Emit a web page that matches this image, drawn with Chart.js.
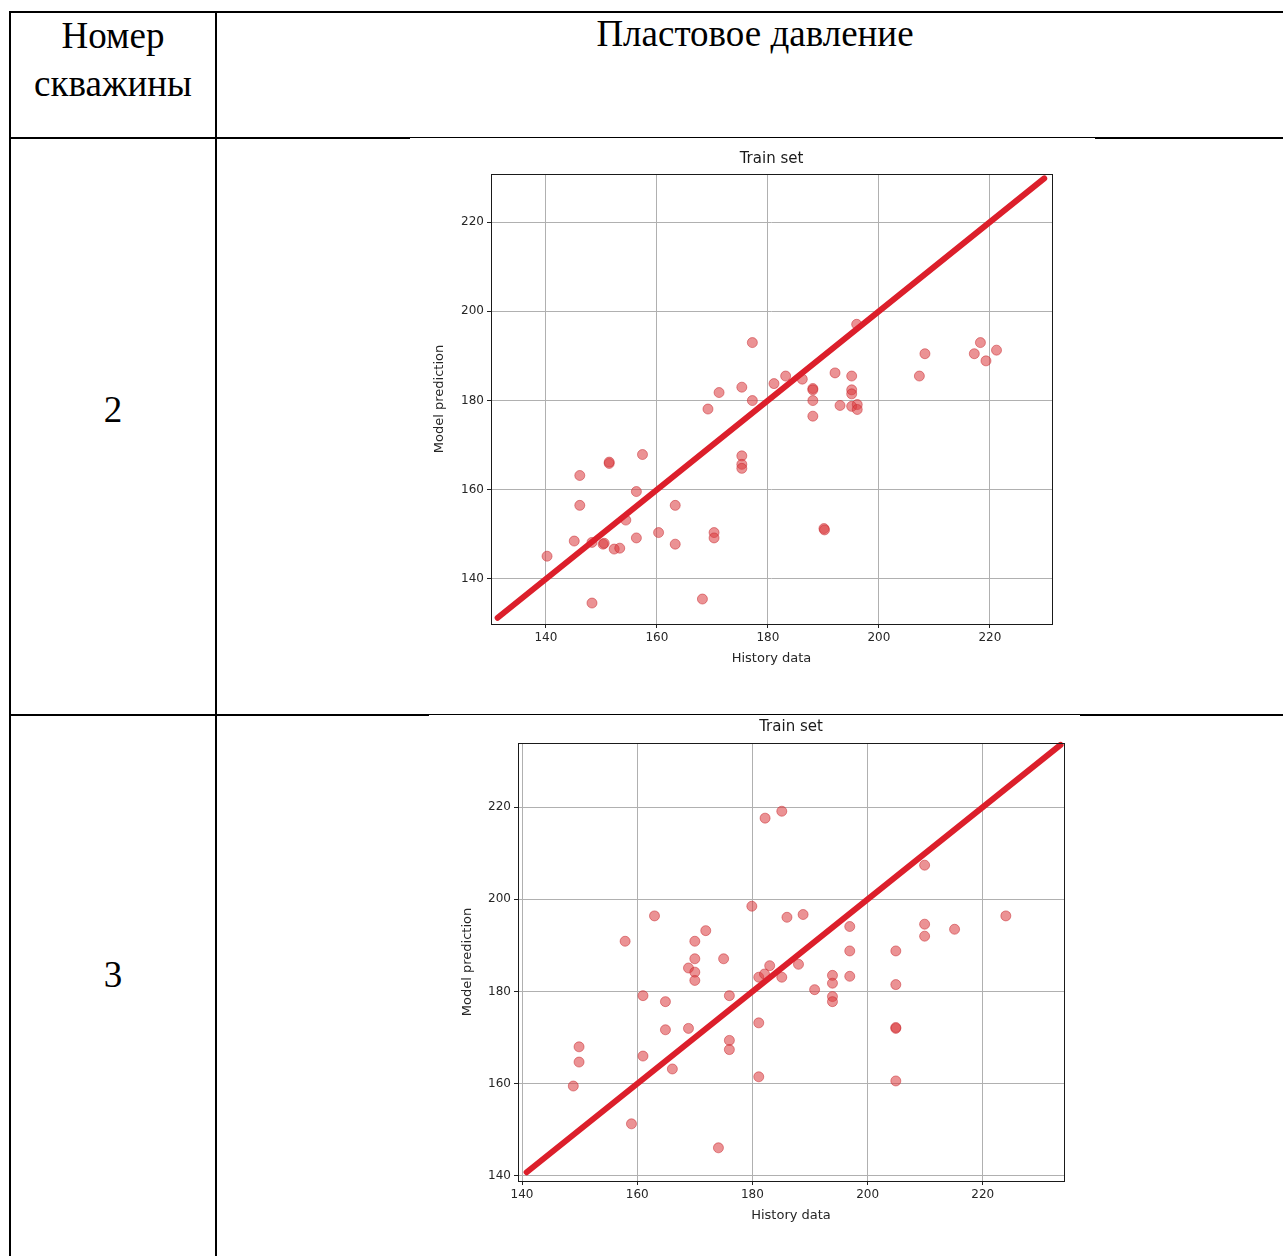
<!DOCTYPE html>
<html>
<head>
<meta charset="utf-8">
<script src="https://cdn.jsdelivr.net/npm/chart.js@4.4.1/dist/chart.umd.min.js"></script>
<style>
  html, body { margin:0; padding:0; background:#fff; }
  body { width:1283px; height:1256px; position:relative; overflow:hidden; }
  .ln { position:absolute; background:#000; }
  .txt { position:absolute; font-family:"Liberation Serif","Times New Roman",serif; font-size:37px; color:#000; text-align:center; line-height:1; white-space:nowrap; }
  canvas.chart { position:absolute; }
</style>
</head>
<body>
<!-- table frame -->
<div class="ln" style="left:9px;top:11px;width:1274px;height:2px;"></div>
<div class="ln" style="left:9px;top:11px;width:2px;height:1245px;"></div>
<div class="ln" style="left:215px;top:11px;width:2px;height:1245px;"></div>
<div class="ln" style="left:9px;top:137px;width:401px;height:2px;"></div>
<div class="ln" style="left:410px;top:137px;width:685px;height:1px;"></div>
<div class="ln" style="left:1095px;top:137px;width:188px;height:2px;"></div>
<div class="ln" style="left:9px;top:714px;width:420px;height:2px;"></div>
<div class="ln" style="left:429px;top:714px;width:651px;height:1px;"></div>
<div class="ln" style="left:1080px;top:714px;width:203px;height:2px;"></div>

<div class="txt" style="left:11px;width:204px;top:17px;">Номер</div>
<div class="txt" style="left:11px;width:204px;top:65px;">скважины</div>
<div class="txt" style="left:217px;width:1076px;top:15px;">Пластовое давление</div>
<div class="txt" style="left:11px;width:204px;top:391px;">2</div>
<div class="txt" style="left:11px;width:204px;top:956px;">3</div>

<canvas id="c1" class="chart" width="680" height="540" style="left:400px;top:140px;width:680px;height:540px;"></canvas>
<canvas id="c2" class="chart" width="680" height="540" style="left:420px;top:705px;width:680px;height:540px;"></canvas>

<script>
// ---------------- data ----------------
const headerWell = ["Номер", "скважины"];
const headerParam = "Пластовое давление";
const wellNumbers = ["2", "3"];
const chartTitle = "Train set";
const xAxisTitle = "History data";
const yAxisTitle = "Model prediction";
const tickValues = [140, 160, 180, 200, 220];

// Well 2: history (x) vs model prediction (y)
const well2History = [177.2,171.2,175.3,177.2,169.2,157.4,151.4,151.4,146.1,175.3,175.3,175.3,156.3,146.1,163.3,154.4,145.1,148.3,150.3,150.5,152.3,153.3,156.3,160.3,163.3,170.3,170.3,140.2,148.3,168.2,
  196.0,181.1,183.2,186.2,188.1,188.1,188.1,188.1,192.1,195.1,195.1,195.1,193.0,195.1,196.1,196.1,190.1,190.2,208.3,207.3,218.3,217.2,219.3,221.2];
const well2Prediction = [193.0,181.8,183.0,180.0,178.1,167.9,165.9,166.2,163.2,167.6,165.7,164.8,159.6,156.5,156.5,153.2,148.5,148.2,147.8,148.0,146.7,146.9,149.2,150.4,147.8,150.4,149.2,145.1,134.6,135.5,
  197.1,183.8,185.5,184.8,182.7,182.4,180.0,176.5,186.2,185.5,182.4,181.5,178.9,178.7,179.1,178.0,151.3,151.0,190.5,185.5,193.0,190.5,188.9,191.3];
const well2Ideal = [131.3, 229.8];

// Well 3
const well3History = [182.2,185.1,179.9,186.0,163.0,157.9,171.9,170.0,170.0,175.0,168.9,170.0,170.0,183.0,181.1,182.1,185.1,161.0,164.9,176.0,164.9,168.9,181.1,176.0,176.0,149.9,149.9,161.0,166.1,148.9,181.1,159.0,174.1,
  209.9,188.8,196.9,209.9,209.9,215.1,224.0,196.9,204.9,188.0,193.9,193.9,196.9,190.8,193.9,193.9,204.9,204.9,204.9,204.9];
const well3Prediction = [217.6,219.1,198.5,196.1,196.4,190.9,193.2,190.9,187.1,187.1,185.1,184.2,182.4,185.6,183.1,183.8,183.1,179.1,177.8,179.1,171.7,172.0,173.2,169.4,167.4,168.0,164.7,166.0,163.2,159.5,161.5,151.3,146.1,
  207.4,196.7,194.1,194.6,192.0,193.5,196.4,188.8,188.8,185.9,183.5,181.8,183.3,180.4,178.9,177.8,181.5,172.0,172.2,160.6];
const well3Ideal = [140.8, 233.5];

// axis ranges
const well2XRange = [130.1, 231.2], well2YRange = [129.9, 230.8];
const well3XRange = [139.3, 234.1], well3YRange = [138.9, 233.9];

// ---------------- chart construction ----------------
const frame = {
  id: 'frame',
  afterDatasetsDraw(chart) {
    const a = chart.chartArea, ctx = chart.ctx;
    ctx.save();
    ctx.strokeStyle = '#1a1a1a';
    ctx.lineWidth = 1;
    ctx.strokeRect(Math.round(a.left) + 0.5, Math.round(a.top) + 0.5, Math.round(a.right - a.left), Math.round(a.bottom - a.top));
    ctx.restore();
  }
};

function makeChart(id, hx, py, ideal, xr, yr, geo) {
  const pts = hx.map((v, i) => ({x: v, y: py[i]}));
  const line = ideal.map(v => ({x: v, y: v}));
  const fontTick = {family: 'DejaVu Sans', size: 12};
  const axisCommon = (range, fitKey, fitVal, titleText, titlePad) => ({
    type: 'linear',
    min: range[0], max: range[1],
    afterBuildTicks: s => { s.ticks = tickValues.map(v => ({value: v})); },
    afterFit: s => { s[fitKey] = fitVal; },
    grid: { color: '#b0b0b0', lineWidth: 1, tickLength: 4, tickColor: '#222', drawTicks: true },
    border: { display: false },
    ticks: { color: '#262626', font: fontTick, padding: 3, maxRotation: 0 },
    title: { display: true, text: titleText, color: '#262626', font: {family: 'DejaVu Sans', size: 13}, padding: titlePad }
  });
  return new Chart(document.getElementById(id), {
    type: 'scatter',
    data: {
      datasets: [
        { data: pts, backgroundColor: 'rgba(218,56,60,0.55)', borderColor: 'rgba(200,40,45,0.5)', borderWidth: 1, pointRadius: 5, pointHoverRadius: 5, order: 2, clip: false },
        { type: 'line', data: line, borderColor: '#dc1f2b', borderWidth: 6, borderCapStyle: 'round', pointRadius: 0, fill: false, order: 1, clip: false }
      ]
    },
    options: {
      responsive: false,
      animation: false,
      events: [],
      layout: { padding: geo.padding },
      plugins: {
        legend: { display: false },
        tooltip: { enabled: false },
        title: { display: true, text: chartTitle, fullSize: false, color: '#1a1a1a', font: {family: 'DejaVu Sans', size: 15, weight: 'normal'}, padding: geo.titlePad }
      },
      scales: {
        x: axisCommon(xr, 'height', geo.xH, xAxisTitle, {top: 0, bottom: geo.xTitleBottom}),
        y: axisCommon(yr, 'width', geo.yW, yAxisTitle, {top: geo.yTitleTop, bottom: 0})
      }
    },
    plugins: [frame]
  });
}

makeChart('c1', well2History, well2Prediction, well2Ideal, well2XRange, well2YRange,
  { padding: {left: 30, right: 28, top: 0, bottom: 0}, titlePad: {top: 10, bottom: 6}, xH: 56, yW: 61, xTitleBottom: 14, yTitleTop: 2 });
makeChart('c2', well3History, well3Prediction, well3Ideal, well3XRange, well3YRange,
  { padding: {left: 38, right: 36, top: 0, bottom: 0}, titlePad: {top: 13, bottom: 7}, xH: 64, yW: 60, xTitleBottom: 22, yTitleTop: 2 });
</script>
</body>
</html>
